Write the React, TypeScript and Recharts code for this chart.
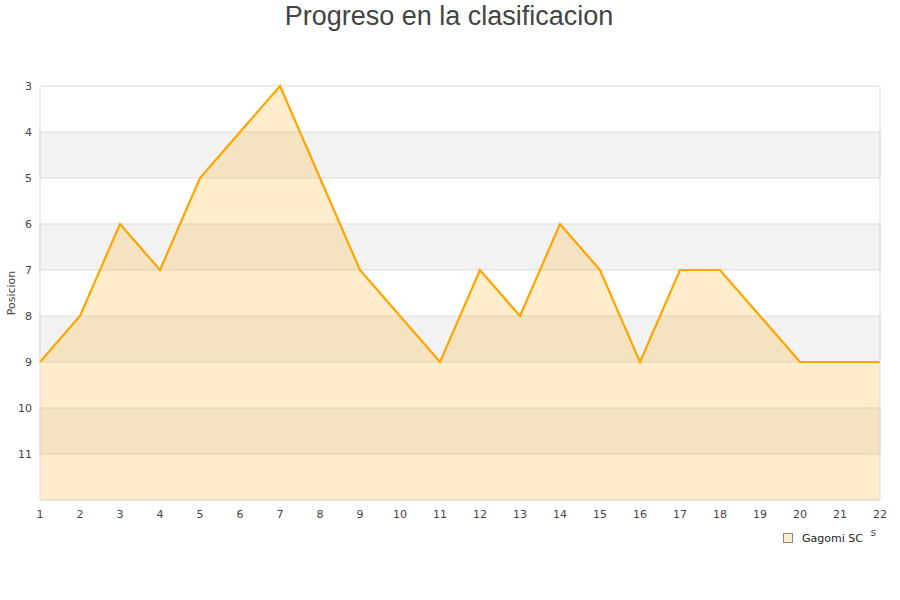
import React from 'react';
import { AreaChart, Area, XAxis, YAxis, CartesianGrid, Legend, ReferenceArea } from 'recharts';

const jornadas = [1, 2, 3, 4, 5, 6, 7, 8, 9, 10, 11, 12, 13, 14, 15, 16, 17, 18, 19, 20, 21, 22];
const posiciones = [9, 8, 6, 7, 5, 4, 3, 5, 7, 8, 9, 7, 8, 6, 7, 9, 7, 7, 8, 9, 9, 9];
const yTicks = [3, 4, 5, 6, 7, 8, 9, 10, 11, 12];
const bandStarts = [4, 6, 8, 10];
const seriesName = 'Gagomi SC';
const title = 'Progreso en la clasificacion';

const data = jornadas.map((j, i) => ({ j, pos: posiciones[i] }));

const FONT = '"DejaVu Sans", sans-serif';

const LegendContent = () => (
  <div
    style={{
      background: '#ffffff',
      display: 'flex',
      alignItems: 'center',
      height: '100%',
      fontFamily: FONT,
      fontSize: 11,
      color: '#222',
      paddingLeft: 8,
      boxSizing: 'border-box',
    }}
  >
    <span
      style={{
        display: 'inline-block',
        width: 8,
        height: 8,
        background: 'rgba(255,165,0,0.2)',
        border: '1px solid #888',
        marginRight: 9,
      }}
    />
    <span>{seriesName}</span>
  </div>
);

export default function App() {
  return (
    <div style={{ position: 'absolute', left: 0, top: 0, width: 900, height: 600, background: '#fff' }}>
      <div
        style={{
          position: 'absolute',
          top: 1,
          left: 0,
          width: 898,
          textAlign: 'center',
          fontFamily: '"Liberation Sans", Arial, sans-serif',
          fontSize: 27,
          color: '#444',
          lineHeight: 'normal',
        }}
      >
        {title}
      </div>
      <AreaChart width={900} height={600} data={data} margin={{ top: 86, right: 0, left: 0, bottom: 36 }}>
        <CartesianGrid vertical={false} stroke="#dddddd" />
        {bandStarts.map((b) => (
          <ReferenceArea
            key={b}
            yAxisId="left"
            x1={1}
            x2={22}
            y1={b}
            y2={b + 1}
            fill="#f2f2f2"
            fillOpacity={1}
            stroke="#dddddd"
            strokeWidth={1}
          />
        ))}
        <XAxis
          dataKey="j"
          type="number"
          domain={[1, 22]}
          ticks={jornadas}
          interval={0}
          height={40}
          axisLine={{ stroke: '#dddddd' }}
          tickLine={false}
          tickMargin={4}
          tick={{ fill: '#444', fontSize: 11, fontFamily: FONT }}
          label={{ value: 'Jornadas', position: 'insideBottomRight', offset: 4, fill: '#444', fontSize: 10, fontFamily: FONT }}
        />
        <YAxis
          yAxisId="left"
          reversed
          domain={[3, 12]}
          ticks={yTicks}
          interval={0}
          width={40}
          axisLine={{ stroke: '#dddddd' }}
          tickLine={false}
          tickFormatter={(v: number) => (v === 12 ? '' : String(v))}
          tick={{ fill: '#444', fontSize: 11, fontFamily: FONT }}
          label={{ value: 'Posicion', angle: -90, position: 'insideLeft', offset: 11, fill: '#444', fontSize: 11, fontFamily: FONT, style: { textAnchor: 'middle' } }}
        />
        <YAxis
          yAxisId="right"
          orientation="right"
          reversed
          domain={[3, 12]}
          ticks={yTicks}
          width={20}
          axisLine={{ stroke: '#dddddd' }}
          tickLine={false}
          tick={false}
        />
        <Area
          yAxisId="left"
          type="linear"
          dataKey="pos"
          name={seriesName}
          baseValue={12}
          stroke="#FFA500"
          strokeWidth={2.2}
          fill="#FFA500"
          fillOpacity={0.2}
          dot={false}
          activeDot={false}
          isAnimationActive={false}
        />
        <Legend
          content={<LegendContent />}
          wrapperStyle={{ position: 'absolute', left: 775, top: 526, width: 95, height: 24, bottom: 'auto', right: 'auto' }}
        />
      </AreaChart>
    </div>
  );
}
